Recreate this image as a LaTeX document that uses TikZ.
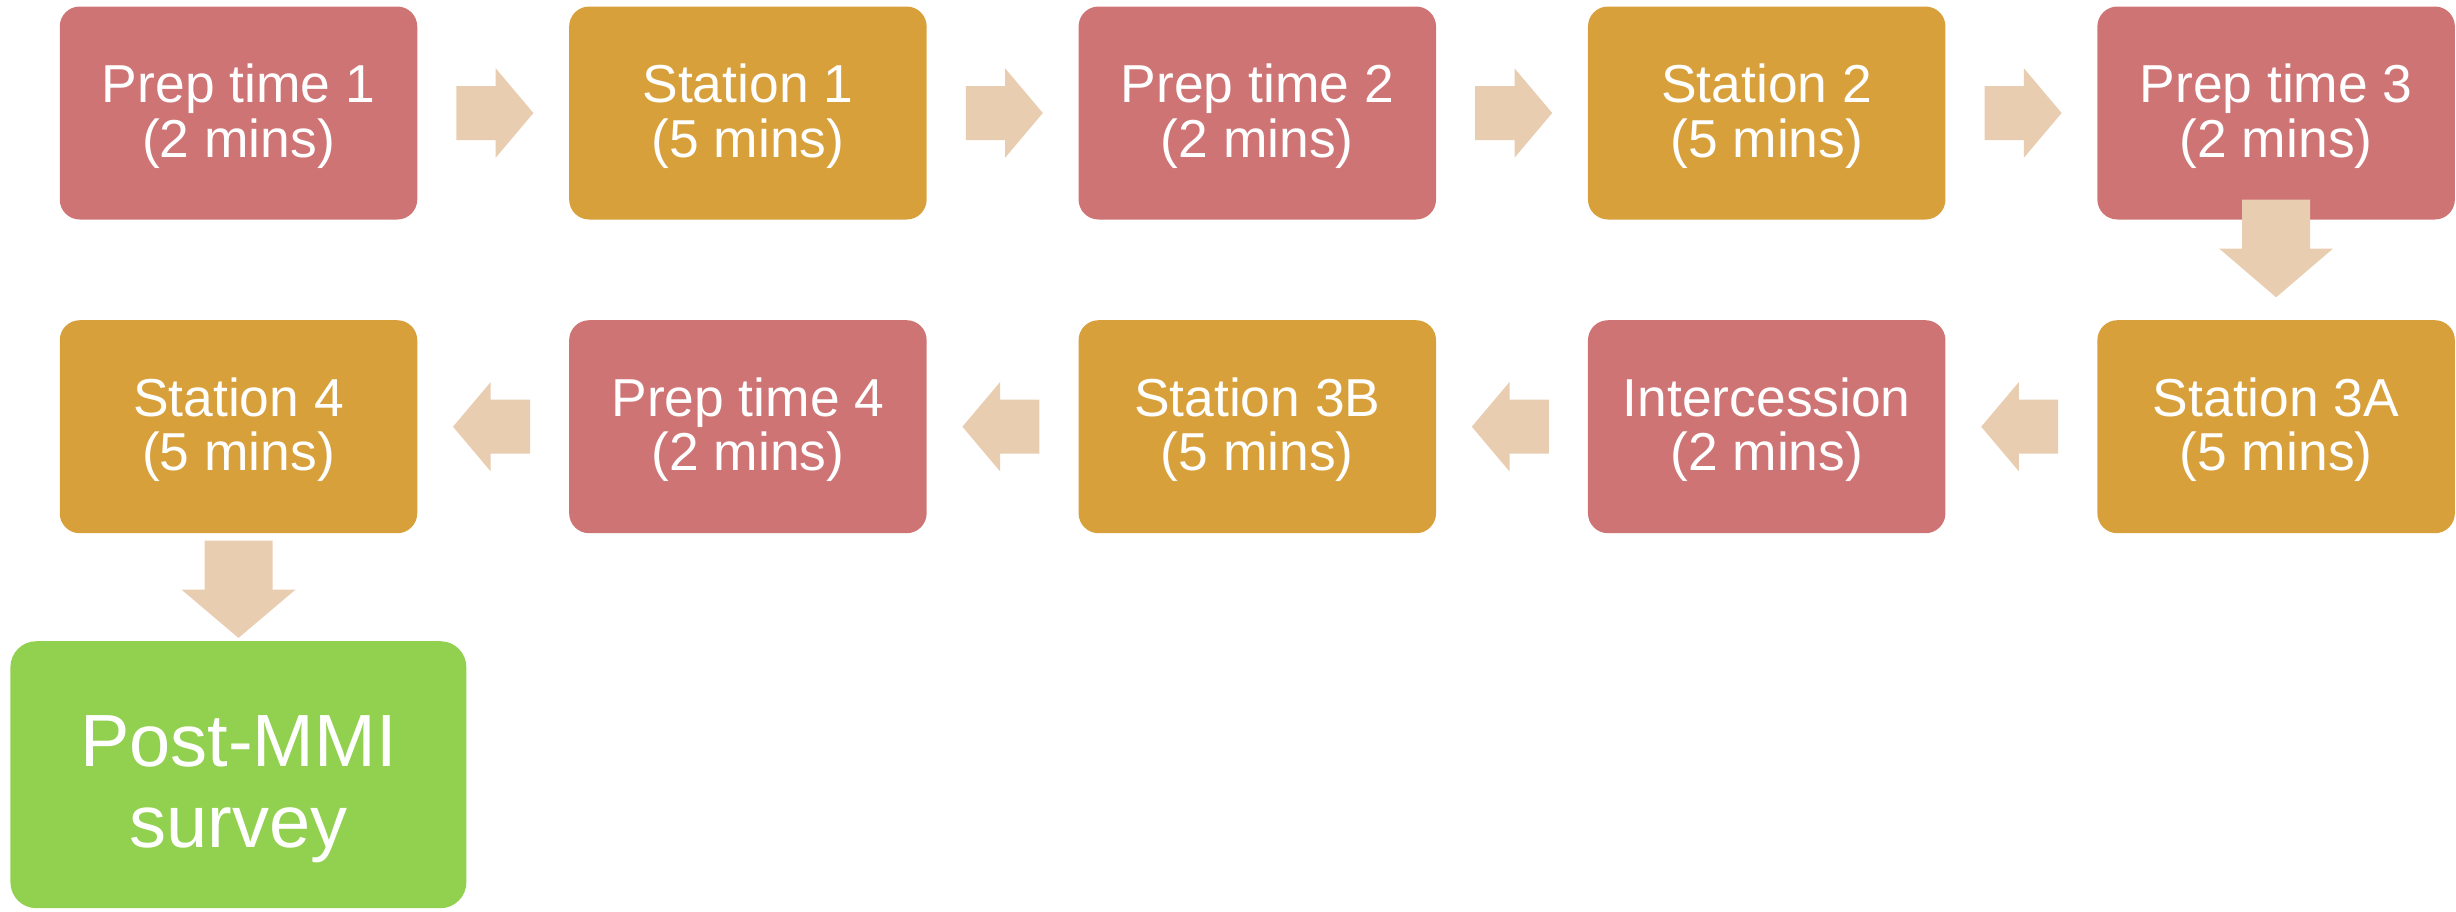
\documentclass[tikz,border=0pt]{standalone}
\usepackage{fontspec}
\setmainfont{Liberation Sans}
\usetikzlibrary{calc}
\definecolor{boxred}{RGB}{207,116,117}
\definecolor{boxgold}{RGB}{216,160,58}
\definecolor{arrtan}{RGB}{233,205,176}
\definecolor{boxgreen}{RGB}{146,208,80}
\tikzset{
  stepbox/.style={minimum width=178.75pt, minimum height=106.5pt, inner sep=0pt,
    rounded corners=10pt},
  steptext/.style={align=center, text=white, inner sep=0pt,
    font=\fontsize{26.7pt}{27.3pt}\selectfont},
  redbox/.style={stepbox, fill=boxred},
  goldbox/.style={stepbox, fill=boxgold},
  greenbox/.style={minimum width=228pt, minimum height=133.5pt, inner sep=0pt,
    rounded corners=13pt, fill=boxgreen},
  greentext/.style={align=center, text=white, inner sep=0pt,
    font=\fontsize{37pt}{40.3pt}\selectfont},
  arr/.style={fill=arrtan}
}
% box node plus its text (text set slightly below centre, as in the reference)
\newcommand\stepnode[4]{%
  \node[#1] (#2) at #3 {};
  \node[steptext] (#2-t) at ($(#2.center)+(0,3)$) {#4};}
\newcommand\rarrow[2]{\fill[arr] ($(#1.east)!.5!(#2.west)$) ++(-36.8,-27) -- ++(39.3,0) -- ++(0,-17.7) -- ++(37.7,44.7) -- ++(-37.7,44.7) -- ++(0,-17.7) -- ++(-39.3,0) -- cycle;}
\newcommand\larrow[2]{\fill[arr] ($(#1.west)!.5!(#2.east)$) ++(36.8,-27) -- ++(-39.3,0) -- ++(0,-17.7) -- ++(-37.7,44.7) -- ++(37.7,44.7) -- ++(0,-17.7) -- ++(39.3,0) -- cycle;}
\begin{document}
\begin{tikzpicture}[x=0.5pt,y=-0.5pt]
\useasboundingbox (0,0) rectangle (2456,911);
% row 1
\stepnode{redbox}{p1}{(238.5,113)}{Prep time 1\\(2 mins)}
\stepnode{goldbox}{s1}{(747.9,113)}{Station 1\\(5 mins)}
\stepnode{redbox}{p2}{(1257.3,113)}{Prep time 2\\(2 mins)}
\stepnode{goldbox}{s2}{(1766.7,113)}{Station 2\\(5 mins)}
\stepnode{redbox}{p3}{(2276.1,113)}{Prep time 3\\(2 mins)}
% row 2
\stepnode{goldbox}{s3a}{(2276.1,426.7)}{Station 3A\\(5 mins)}
\stepnode{redbox}{int}{(1766.7,426.7)}{Intercession\\(2 mins)}
\stepnode{goldbox}{s3b}{(1257.3,426.7)}{Station 3B\\(5 mins)}
\stepnode{redbox}{p4}{(747.9,426.7)}{Prep time 4\\(2 mins)}
\stepnode{goldbox}{s4}{(238.5,426.7)}{Station 4\\(5 mins)}
% final
\node[greenbox] (post) at (238.4,774.7) {};
\node[greentext] (post-t) at ($(post.center)+(0,14.7)$) {Post-MMI\\survey};
% arrows
\rarrow{p1}{s1}
\rarrow{s1}{p2}
\rarrow{p2}{s2}
\rarrow{s2}{p3}
\larrow{s3a}{int}
\larrow{int}{s3b}
\larrow{s3b}{p4}
\larrow{p4}{s4}
\fill[arr] ($(p3.south)+(-34,-20.3)$) -- ($(p3.south)+(34,-20.3)$) -- ($(p3.south)+(34,28.6)$) -- ($(p3.south)+(57,28.6)$) -- ($(p3.south)+(0,77.4)$) -- ($(p3.south)+(-57,28.6)$) -- ($(p3.south)+(-34,28.6)$) -- cycle;
\fill[arr] ($(s4.south)+(-34,7)$) -- ($(s4.south)+(34,7)$) -- ($(s4.south)+(34,56)$) -- ($(s4.south)+(57,56)$) -- ($(s4.south)+(0,104.3)$) -- ($(s4.south)+(-57,56)$) -- ($(s4.south)+(-34,56)$) -- cycle;
\end{tikzpicture}
\end{document}
